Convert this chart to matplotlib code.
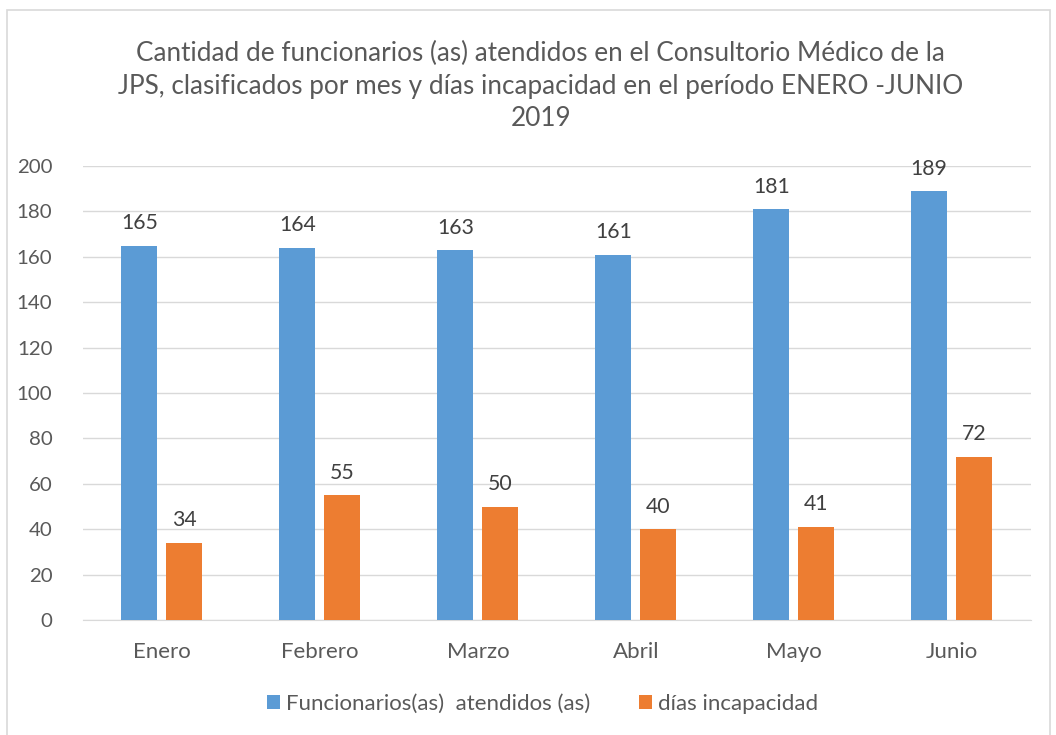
import numpy as np
import matplotlib.pyplot as plt
from matplotlib.patches import Rectangle

plt.rcParams['font.family'] = ['Lato', 'DejaVu Sans']

meses = ['Enero', 'Febrero', 'Marzo', 'Abril', 'Mayo', 'Junio']
funcionarios = [165, 164, 163, 161, 181, 189]
dias_incapacidad = [34, 55, 50, 40, 41, 72]

azul = '#5b9bd5'
naranja = '#ed7d31'
gris = '#595959'

fig = plt.figure(figsize=(10.56, 7.35), dpi=100)
ax = fig.add_axes([0.0786, 0.1565, 0.8974, 0.6175])

x = np.arange(len(meses))
ancho = 0.228
sep = 0.057
b1 = ax.bar(x - (ancho + sep) / 2, funcionarios, ancho, color=azul,
            label='Funcionarios(as)  atendidos (as)', zorder=3)
b2 = ax.bar(x + (ancho + sep) / 2, dias_incapacidad, ancho, color=naranja,
            label='días incapacidad', zorder=3)

for barras in (b1, b2):
    ax.bar_label(barras, padding=9, fontsize=15.3, color='#404040')

ax.set_xlim(-0.5, len(meses) - 0.5)
ax.set_ylim(0, 200)
ax.set_yticks(range(0, 201, 20))
ax.set_xticks(x)
ax.set_xticklabels(meses)
ax.tick_params(axis='both', length=0, colors=gris)
ax.tick_params(axis='x', pad=16, labelsize=16)
ax.tick_params(axis='y', pad=22, labelsize=14.7)
ax.grid(axis='y', color='#d9d9d9', linewidth=1, zorder=0)
for s in ['top', 'right', 'left']:
    ax.spines[s].set_visible(False)
ax.spines['bottom'].set_color('#d9d9d9')

fig.text(0.512, 0.883,
         'Cantidad de funcionarios (as) atendidos en el Consultorio Médico de la\n'
         'JPS, clasificados por mes y días incapacidad en el período ENERO -JUNIO\n'
         '2019',
         ha='center', va='center', fontsize=18.8, color=gris, linespacing=1.38)

ax.legend(loc='center', bbox_to_anchor=(0.485, -0.185), ncol=2, frameon=False,
          fontsize=16, labelcolor=gris, handlelength=0.6, handleheight=0.6,
          handletextpad=0.25, columnspacing=2.2)

fig.patches.append(Rectangle((0.0066, -0.01), 0.988, 0.9964, transform=fig.transFigure,
                             fill=False, edgecolor='#d9d9d9', linewidth=1.2))

fig.savefig('out.png', dpi=100)
